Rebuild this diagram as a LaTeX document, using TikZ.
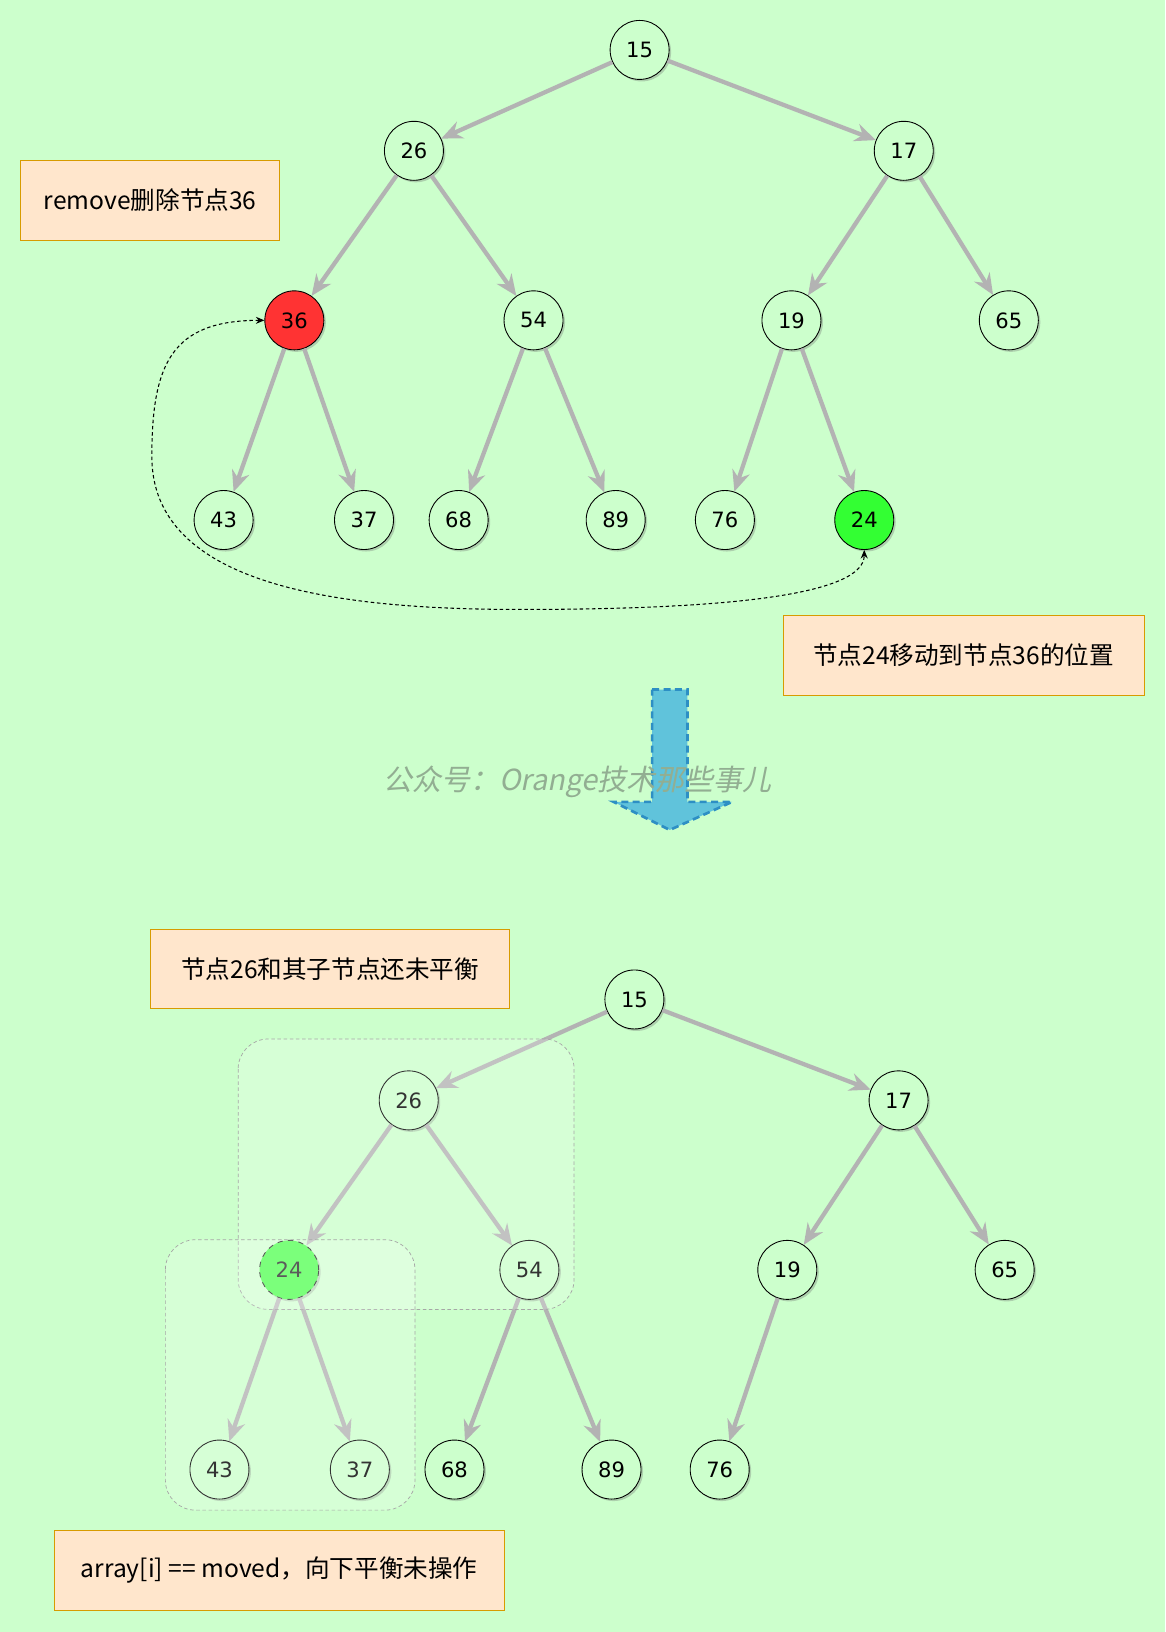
\documentclass[tikz,border=0pt]{standalone}
\usepackage{fontspec}
\setmainfont{DejaVu Sans}
\newfontfamily\cjk{Noto Sans CJK SC}
\newfontfamily\cjkslant[FakeSlant=0.2]{Noto Sans CJK SC}
\usetikzlibrary{arrows.meta}
\usetikzlibrary{shadows}
\definecolor{page colour}{HTML}{CCFFCC}
\definecolor{edge colour}{HTML}{B3B3B3}
\definecolor{note colour}{HTML}{FFE6CC}
\definecolor{note border}{HTML}{D79B00}
\definecolor{removed colour}{HTML}{FF3333}
\definecolor{moved colour}{HTML}{33FF33}
\definecolor{arrow colour}{HTML}{60C3DB}
\definecolor{arrow border}{HTML}{2D8FC4}
\definecolor{mark colour}{HTML}{92AE92}
\tikzset{
    % Heavy grey heads for the tree edges
    >={Stealth[length=4.2mm, width=3.6mm, inset=1.4mm]},
%
    % Fills for the special nodes
    plain/.style={},
    removed/.style={fill=removed colour},
    moved/.style={fill=moved colour},
    moved here/.style={fill=moved colour, dashed},
    % Tree nodes and edges
    heap node/.style={circle, draw=black, line width=0.5pt, fill=page colour,
        minimum size=1.18cm, inner sep=0, font=\fontsize{12pt}{14pt}\selectfont,
        drop shadow={shadow xshift=0.04cm, shadow yshift=-0.04cm,
            opacity=0.3, fill=black!60}},
    heap edge/.style={draw=edge colour, line width=0.085cm, ->},
%
    % Orange comment boxes
    note/.style={rectangle, draw=note border, fill=note colour, line width=0.6pt,
        inner sep=0, font=\cjk\fontsize{14pt}{17pt}\selectfont},
    group box/.style={draw=black!35, dash pattern=on 2pt off 1.5pt, line width=0.4pt,
        fill=white, fill opacity=0.2, rounded corners=0.6cm},
    move/.style={draw=black, dash pattern=on 2pt off 1.5pt, line width=0.6pt,
        {Stealth[length=1.7mm, width=1.4mm]}-{Stealth[length=1.7mm, width=1.4mm]}},
    down arrow/.style={fill=arrow colour, draw=arrow border, line width=1.5pt,
        dash pattern=on 4pt off 2.5pt},
}

\begin{document}
\begin{tikzpicture}[x=0.0208cm, y=-0.0208cm]

\fill [page colour] (0,0) rectangle (1120.2,1569.2);
\useasboundingbox (0,0) rectangle (1120.2,1569.2);

% Heap before the move
\foreach \name/\xx/\yy/\look in {
    15/615/48/plain, 26/398/145/plain, 17/869/145/plain,
    36/283/308/removed, 54/513/308/plain, 19/761/308/plain, 65/970/308/plain,
    43/215/500/plain, 37/350/500/plain, 68/441/500/plain,
    89/592/500/plain, 76/697/500/plain, 24/831/500/moved}
{
    \node [heap node, \look] (t\name) at (\xx,\yy) {\name};
}
\foreach \from/\to in {15/26, 15/17, 26/36, 26/54, 17/19, 17/65,
    36/43, 36/37, 54/68, 54/89, 19/76, 19/24}
{
    \draw [heap edge] (t\from) -- (t\to);
}

\draw [move] (t36.west) .. controls (165,308) and (146,350) .. (146,439)
    .. controls (146,565) and (330,586) .. (500,586)
    .. controls (700,586) and (831,572) .. (t24.south);

\node [note, minimum width=5.18cm, minimum height=1.6cm] (removenote)
    at (144.5,192.5) {remove删除节点36};
\node [note, minimum width=7.22cm, minimum height=1.6cm] (movenote)
    at (926.5,630) {节点24移动到节点36的位置};

% Step arrow and watermark
\draw [down arrow] (627,663) -- (661,663) -- (661,771) -- (704,771)
    -- (644,798) -- (590,771) -- (627,771) -- cycle;
\node [text=mark colour, font=\cjkslant\fontsize{16.5pt}{19pt}\selectfont]
    (mark) at (555,752) {公众号：Orange技术那些事儿};

% Heap after the move
\foreach \name/\xx/\yy/\look in {
    15/610/961/plain, 26/393/1058/plain, 17/864/1058/plain,
    24/278/1221/moved here, 54/509/1221/plain, 19/757/1221/plain, 65/966/1221/plain,
    43/211/1413/plain, 37/346/1413/plain, 68/437/1413/plain,
    89/588/1413/plain, 76/692/1413/plain}
{
    \node [heap node, \look] (b\name) at (\xx,\yy) {\name};
}
\foreach \from/\to in {15/26, 15/17, 26/24, 26/54, 17/19, 17/65,
    24/43, 24/37, 54/68, 54/89, 19/76}
{
    \draw [heap edge] (b\from) -- (b\to);
}

% Sub-heaps still to balance
\draw [group box] (229,999) rectangle (552,1259);
\draw [group box] (159,1192) rectangle (399,1452);

\node [note, minimum width=7.18cm, minimum height=1.58cm] (balancenote)
    at (317.5,932) {节点26和其子节点还未平衡};
\node [note, minimum width=9.0cm, minimum height=1.59cm] (arraynote)
    at (268.4,1510) {array[i] == moved，向下平衡未操作};

\end{tikzpicture}
\end{document}
